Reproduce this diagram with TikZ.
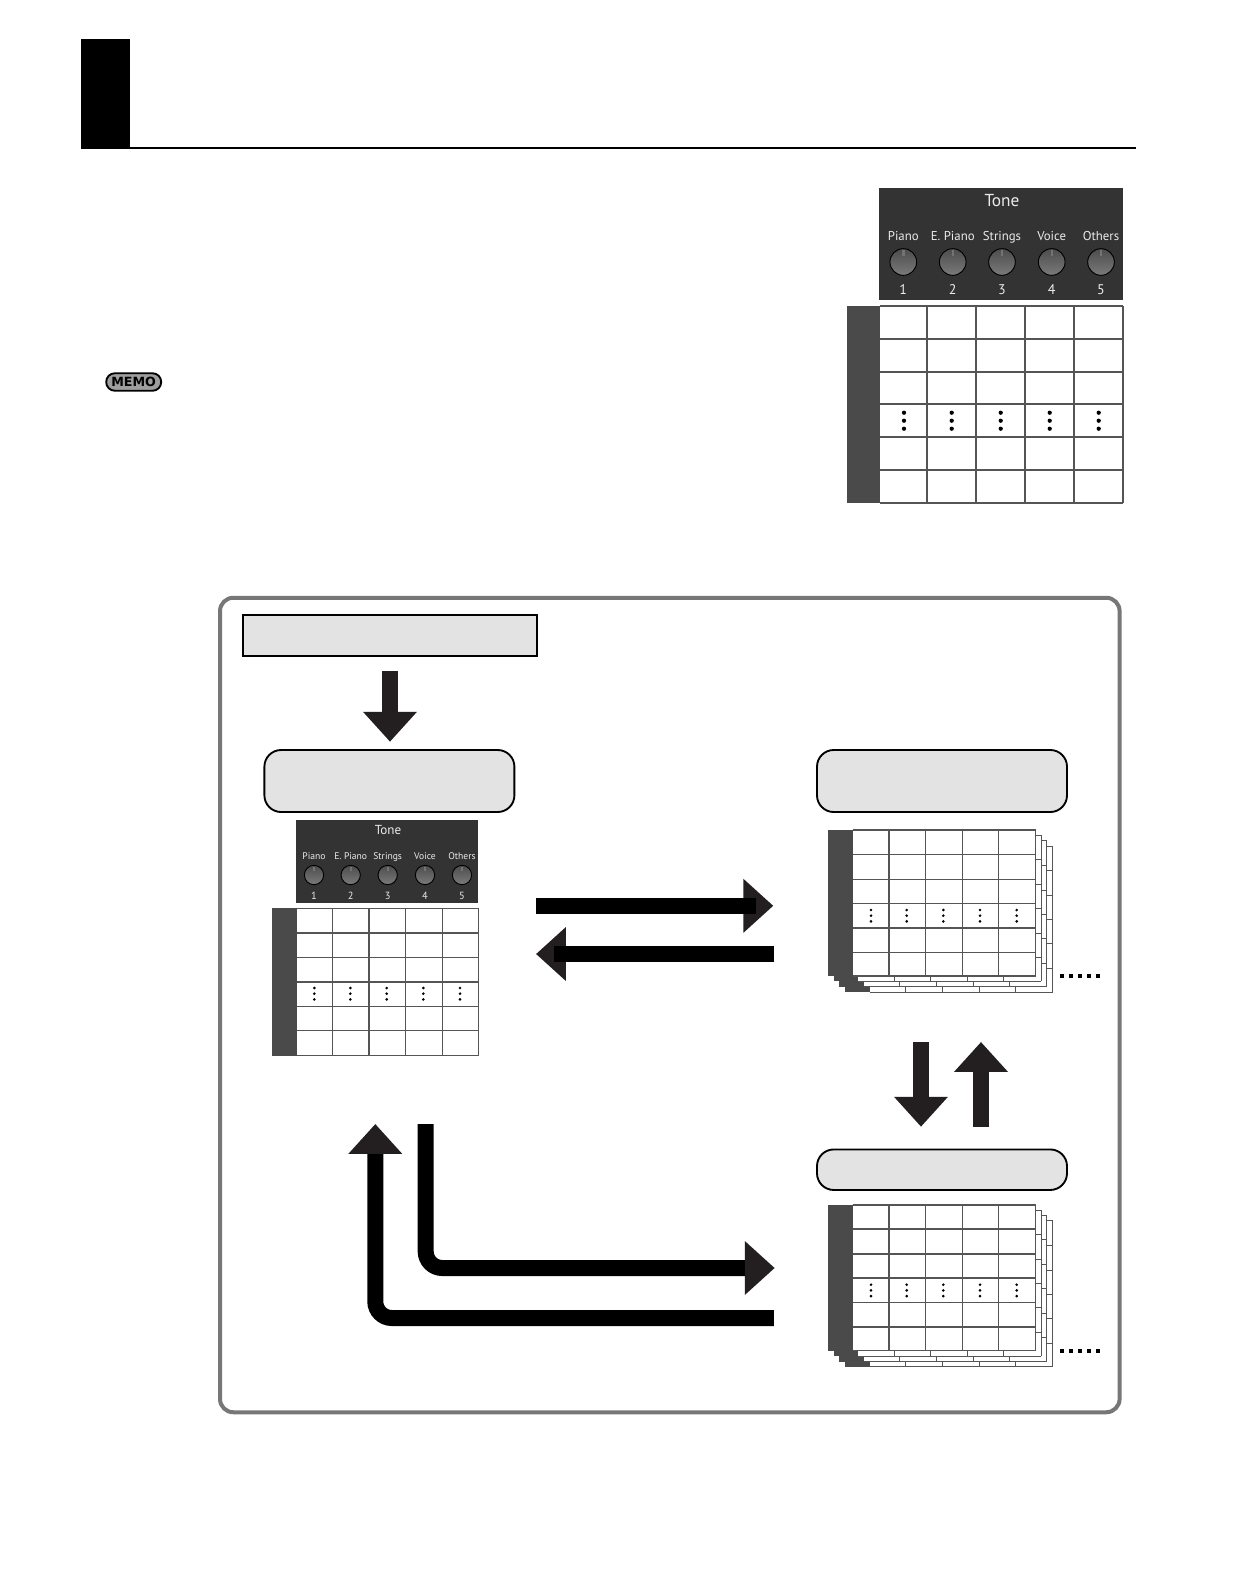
\documentclass[tikz,border=0pt]{standalone}
\usepackage{fontspec}
\usetikzlibrary{arrows.meta}
\newfontfamily\panelfont{PT Sans}
\newfontfamily\memofont{DejaVu Sans}
\definecolor{gridc}{HTML}{555555}
\definecolor{sidec}{HTML}{4A4A4A}
\definecolor{panelc}{HTML}{333333}
\definecolor{boxc}{HTML}{E3E3E3}
\definecolor{headc}{HTML}{231F20}
\definecolor{framec}{HTML}{777777}
\tikzset{
  pxsize/.style 2 args={minimum width=#1*0.75pt,minimum height=#2*0.75pt,inner sep=0pt,outer sep=0pt},
  framebox/.style={draw=framec,line width=3pt,rounded corners=10pt,fill=white},
  plainbox/.style={draw=black,line width=1.5pt,fill=boxc},
  softbox/.style={draw=black,line width=1.4pt,fill=boxc,rounded corners=12.5pt},
  darkpanel/.style={fill=panelc,draw=none},
  knobdisc/.style={circle,draw=black,line width=0.7pt,top color=black!70,bottom color=black!52,inner sep=0pt,outer sep=0pt},
  keytext/.style={text=white!92!black,inner sep=0pt,font=\panelfont\fontsize{#1}{#1}\selectfont},
  gridline/.style={draw=gridc,line width=0.8pt},
  gridthick/.style={draw=gridc,line width=1.5pt},
  sidebar/.style={fill=sidec,draw=none},
  griddot/.style={circle,fill=black,draw=none,inner sep=0pt,outer sep=0pt,minimum size=#1},
  shaftup/.style={draw=headc,line width=12pt},
  shaftblack/.style={draw=black,line width=12pt},
  headtip/.style={-{Triangle[length=22.4pt,width=39pt,color=headc]}},
  dotsquare/.style={fill=black,draw=none,inner sep=0pt,outer sep=0pt,minimum size=3.1pt},
}
\newcommand{\stacklayer}[2]{%
  \begin{scope}[shift={(#1*5.6,#2+#1*5.4)}]
    \fill[sidebar] (828,830) rectangle (852.7,976);
    \fill[white] (852.7,830) rectangle (1035.7,976);
    \foreach \yy in {830,854.3,879.3,903.3,927.7,952.3,976} \draw[gridline] (852.7,\yy) -- (1035.7,\yy);
    \foreach \xx in {888.7,925.3,962.3,998.3,1035.7} \draw[gridline] (\xx,830) -- (\xx,976);
  \end{scope}
}
\newcommand{\stackfull}[2]{%
  \stacklayer{3}{#1}\stacklayer{2}{#1}\stacklayer{1}{#1}\stacklayer{0}{#1}
  \draw[gridthick] (888.7,830+#1) -- (888.7,976+#1);
  \draw[gridthick] (852.7,#2+#1) -- (1035.7,#2+#1);
  \foreach \xx in {871,906.7,943.3,980,1016.7}
    \foreach \dd in {-5.7,0,5.7}
      \node[griddot=2.2pt] at (\xx,915.7+#1+\dd) {};
  \foreach \xx in {1062.3,1071.3,1080.3,1089.3,1098.3}
    \node[dotsquare] at (\xx,976+#1) {};
}
\begin{document}
\begin{tikzpicture}[x=0.75pt,y=-0.75pt]
\useasboundingbox (0,0) rectangle (1242,1596);
% header
\fill[black] (81,39) rectangle (130,149);
\fill[black] (130,147) rectangle (1136,149);
% MEMO badge
\node[draw=black,line width=1.4pt,fill=black!38,rounded corners=6.5pt,pxsize={55}{17.5}] (memo) at (133.7,382) {};
\node[inner sep=0pt] (memotext) at (133.7,382) {\memofont\bfseries\fontsize{9.5}{9.5}\selectfont MEMO};
% upper tone panel
\node[darkpanel,pxsize={244}{112}] (paneltop) at (1001,244) {};
\node[keytext=13] (tonetop) at (1002,200.7) {Tone};
\foreach \xx/\lab/\num in {903.3/Piano/1,952.7/E. Piano/2,1002/Strings/3,1051.7/Voice/4,1101/Others/5}{
  \node[keytext=9.6,anchor=base] (lab\num) at (\xx,240.3) {\lab};
  \node[knobdisc,minimum size=20pt] (knob\num) at (\xx,262) {};
  \fill[black!55] (\xx-1.2,250) rectangle (\xx+1.2,256);
  \node[keytext=10.5] (num\num) at (\xx,289.5) {\num};
}
% upper grid
\fill[sidebar] (847,306) rectangle (880,503);
\foreach \yy in {306,339,404,437,503} \draw[gridline] (880,\yy) -- (1123,\yy);
\foreach \yy in {372,470} \draw[gridline,line width=1.2pt] (880,\yy) -- (1123,\yy);
\foreach \xx in {927,976,1025,1074,1123} \draw[gridline] (\xx,306) -- (\xx,503);
\foreach \xx in {904,951.7,1000.7,1049.7,1098.7}
  \foreach \dd in {-8,0,8}
    \node[griddot=3.2pt] at (\xx,420.7+\dd) {};
% frame
\node[framebox,pxsize={899.6}{814.5}] (frame) at (669.8,1005) {};
% boxes
\node[plainbox,pxsize={294.6}{41.3}] (startbox) at (390,635.4) {};
\node[softbox,pxsize={250}{62}] (currentbox) at (389.4,781) {};
\node[softbox,pxsize={250}{62}] (bankbox) at (942,781) {};
\node[softbox,pxsize={250}{40.5}] (storebox) at (942,1169.7) {};
% arrow end points
\coordinate (startout) at (390,671);
\coordinate (currentin) at (390,741.7);
\coordinate (loadA) at (536,905.8);
\coordinate (loadAmid) at (756,905.8);
\coordinate (loadB) at (773.3,905.8);
\coordinate (saveA) at (774,954);
\coordinate (saveAmid) at (554,954);
\coordinate (saveB) at (536,954);
\coordinate (downA) at (921,1042);
\coordinate (downB) at (921,1126.7);
\coordinate (upA) at (981,1126.7);
\coordinate (upB) at (981,1042);
\coordinate (exportA) at (425.7,1124);
\coordinate (exportBend) at (425.7,1268);
\coordinate (exportB) at (774.7,1268);
\coordinate (importA) at (773.8,1318);
\coordinate (importBend) at (375.3,1318);
\coordinate (importB) at (375.3,1124);
% arrows
\draw[shaftup,headtip] (startout) -- (currentin);
\draw[shaftblack,headtip] (loadA) -- (loadB);
\draw[shaftblack] (loadA) -- (loadAmid);
\draw[shaftblack,headtip] (saveA) -- (saveB);
\draw[shaftblack] (saveA) -- (saveAmid);
\draw[shaftup,headtip] (downA) -- (downB);
\draw[shaftup,headtip] (upA) -- (upB);
\draw[shaftblack,headtip,rounded corners=12.4pt] (exportA) -- (exportBend) -- (exportB);
\draw[shaftblack,headtip,rounded corners=12.4pt] (importA) -- (importBend) -- (importB);
% lower-left tone panel
\node[darkpanel,pxsize={182.3}{83}] (panelmid) at (386.9,861.5) {};
\node[keytext=9.8] (tonemid) at (388,829.7) {Tone};
\foreach \xx/\lab/\num in {314/Piano/1,350.7/E. Piano/2,387.7/Strings/3,425/Voice/4,462/Others/5}{
  \node[keytext=7.2,anchor=base] (mlab\num) at (\xx,859.2) {\lab};
  \node[knobdisc,minimum size=14.5pt] (mknob\num) at (\xx,875) {};
  \fill[black!55] (\xx-1,866.5) rectangle (\xx+1,870.5);
  \node[keytext=7.8] (mnum\num) at (\xx,895.7) {\num};
}
% lower-left grid
\fill[sidebar] (272,908) rectangle (296.7,1055.7);
\foreach \yy in {908.3,933,957.3,1006.7,1030.7,1055.3} \draw[gridline] (296.7,\yy) -- (478.7,\yy);
\draw[gridthick] (296.7,982.3) -- (478.7,982.3);
\foreach \xx in {332.7,405.7,442.3,478.7} \draw[gridline] (\xx,908) -- (\xx,1055.7);
\draw[gridthick] (369,908) -- (369,1055.7);
\foreach \xx in {314.3,350.3,386.7,423.3,460}
  \foreach \dd in {-5.7,0,5.7}
    \node[griddot=2.2pt] at (\xx,993.7+\dd) {};
% stacks
\stackfull{0}{927.7}
\stackfull{374.7}{903}
\draw[gridthick] (852.7,1204.7) -- (1035.7,1204.7);
\end{tikzpicture}
\end{document}
